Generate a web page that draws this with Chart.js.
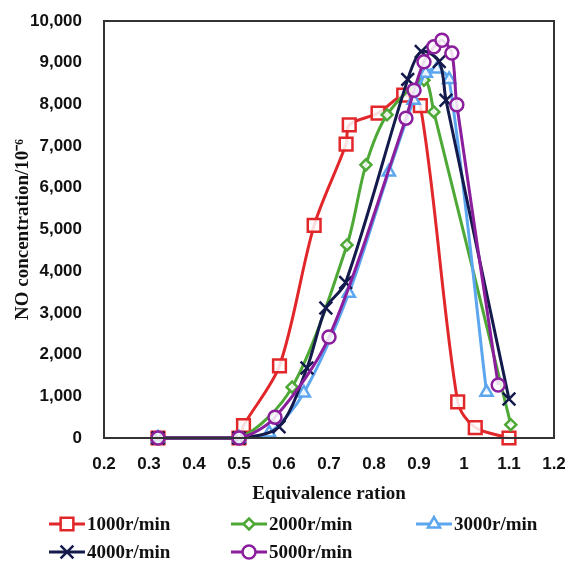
<!DOCTYPE html>
<html>
<head>
<meta charset="utf-8">
<script src="https://cdn.jsdelivr.net/npm/chart.js@4"></script>
<style>
  html, body { margin: 0; padding: 0; background: #fff; }
  #wrap { width: 567px; height: 564px; position: relative; }
</style>
</head>
<body>
<div id="wrap"><canvas id="chart"></canvas></div>
<script>
// equivalence ratio (x) and NO concentration (y) per engine speed
const ratio1000 = [0.32, 0.5, 0.51, 0.59, 0.667, 0.738, 0.745, 0.809, 0.866, 0.903, 0.986, 1.025, 1.1];
const no1000 = [0, 0, 300, 1730, 5100, 7050, 7510, 7790, 8220, 7970, 865, 250, 0];

const ratio2000 = [0.32, 0.5, 0.618, 0.74, 0.782, 0.829, 0.911, 0.933, 1.104];
const no2000 = [0, 0, 1220, 4630, 6550, 7750, 8580, 7820, 320];

const ratio3000 = [0.32, 0.5, 0.567, 0.644, 0.744, 0.833, 0.888, 0.915, 0.94, 0.967, 1.05];
const no3000 = [0, 0, 120, 1080, 3470, 6380, 8100, 8750, 8850, 8600, 1100];

const ratio4000 = [0.32, 0.5, 0.589, 0.651, 0.693, 0.737, 0.875, 0.905, 0.945, 0.96, 1.1];
const no4000 = [0, 0, 270, 1680, 3120, 3730, 8600, 9270, 9030, 8100, 935];

const ratio5000 = [0.32, 0.5, 0.58, 0.7, 0.871, 0.889, 0.911, 0.933, 0.951, 0.973, 0.984, 1.076];
const no5000 = [0, 0, 500, 2420, 7670, 8340, 9020, 9380, 9540, 9230, 7990, 1270];

const seriesLabels = ['1000r/min', '2000r/min', '3000r/min', '4000r/min', '5000r/min'];
const seriesColors = ['#E2272B', '#4EA836', '#5BA6EE', '#141A4C', '#8A1E9C'];
const seriesMarkers = ['rect', 'rectRot', 'triangle', 'crossRot', 'circle'];
const markerSizes = [9, 5.5, 7, 9, 6.5];

const xs = [ratio1000, ratio2000, ratio3000, ratio4000, ratio5000];
const ys = [no1000, no2000, no3000, no4000, no5000];

const serif = "'Liberation Serif', 'Times New Roman', serif";
const sans = "'Liberation Sans', Arial, sans-serif";

const datasets = seriesLabels.map((label, i) => ({
  label: label,
  data: xs[i].map((x, j) => ({ x: x, y: ys[i][j] })),
  borderColor: seriesColors[i],
  backgroundColor: '#ffffff',
  borderWidth: 3,
  tension: 0.3,
  pointStyle: seriesMarkers[i],
  pointRadius: markerSizes[i],
  pointBorderWidth: 2.5,
  pointBorderColor: seriesColors[i],
  pointBackgroundColor: 'rgba(255,255,255,0.85)',
  order: seriesLabels.length - i,
  clip: 12
}));

// box around the plot + the legend grid under the axis title
const framePlugin = {
  id: 'frame',
  afterDraw(chart) {
    const { ctx, chartArea: a } = chart;
    ctx.save();
    ctx.strokeStyle = '#333';
    ctx.lineWidth = 2;
    ctx.strokeRect(a.left, a.top, a.right - a.left, a.bottom - a.top);

    const colX = [49, 231, 416];
    const rowY = [524, 552];
    chart.data.datasets.forEach((ds, i) => {
      const x0 = colX[i % 3];
      const y0 = rowY[Math.floor(i / 3)];
      ctx.strokeStyle = ds.borderColor;
      ctx.lineWidth = 3;
      ctx.beginPath();
      ctx.moveTo(x0, y0);
      ctx.lineTo(x0 + 36, y0);
      ctx.stroke();
      ctx.fillStyle = '#fff';
      ctx.lineWidth = 2.5;
      Chart.helpers.drawPoint(ctx, {
        pointStyle: ds.pointStyle,
        radius: ds.pointRadius,
        rotation: 0,
        borderWidth: 2.5
      }, x0 + 18, y0);
      ctx.fillStyle = '#111';
      ctx.font = 'bold 19px ' + serif;
      ctx.textAlign = 'left';
      ctx.textBaseline = 'middle';
      ctx.fillText(ds.label, x0 + 38, y0 + 1);
    });
    ctx.restore();
  }
};

new Chart(document.getElementById('chart'), {
  type: 'line',
  data: { datasets: datasets },
  options: {
    responsive: true,
    maintainAspectRatio: false,
    animation: false,
    layout: { padding: { top: 21, right: 13, left: 0, bottom: 0 } },
    plugins: {
      legend: { display: false },
      tooltip: { enabled: false }
    },
    scales: {
      x: {
        type: 'linear',
        min: 0.2,
        max: 1.2,
        afterFit(scale) { scale.height = 126; },
        // hidden tick marks give the label gap without adding to the plot padding
        grid: { display: false, drawTicks: true, tickLength: 16 },
        border: { display: false },
        ticks: {
          stepSize: 0.1,
          padding: 0,
          color: '#111',
          font: { family: sans, size: 17, weight: 'bold' },
          callback: v => String(Math.round(v * 10) / 10)
        },
        title: {
          display: true,
          text: 'Equivalence ration',
          color: '#111',
          font: { family: serif, size: 19, weight: 'bold' },
          padding: { top: 0, bottom: 59 }
        }
      },
      y: {
        min: 0,
        max: 10000,
        afterFit(scale) { scale.width = 104; },
        grid: { display: false, drawTicks: true, tickLength: 22 },
        border: { display: false },
        ticks: {
          stepSize: 1000,
          padding: 0,
          color: '#111',
          font: { family: sans, size: 17, weight: 'bold' },
          callback: v => v.toLocaleString('en-US')
        },
        title: {
          display: true,
          text: 'NO concentration/10⁻⁶',
          color: '#111',
          font: { family: serif, size: 19, weight: 'bold' },
          padding: { top: 12, bottom: 0 }
        }
      }
    }
  },
  plugins: [framePlugin]
});
</script>
</body>
</html>
